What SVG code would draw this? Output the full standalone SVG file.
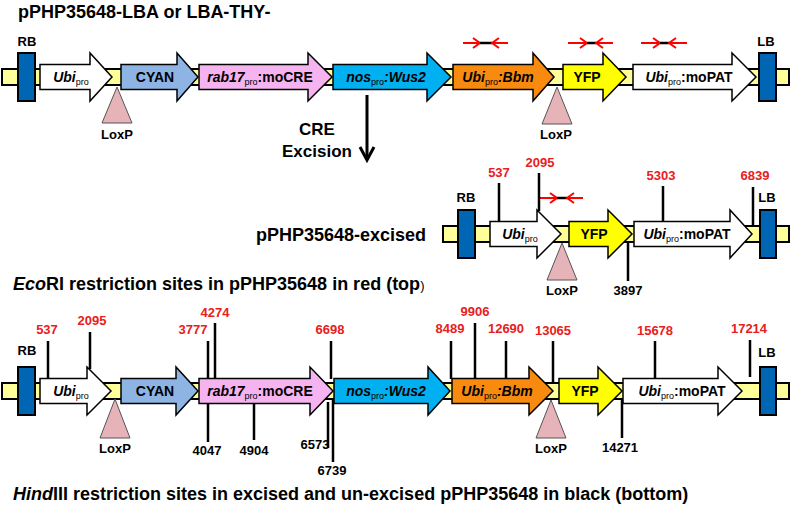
<svg xmlns="http://www.w3.org/2000/svg" width="792" height="507" viewBox="0 0 792 507">
<defs>
<style>
.t{font-family:"Liberation Sans",Arial,sans-serif;font-weight:bold;fill:#000}
.cap{font-size:18px}
.lbl{font-size:13px;text-anchor:middle}
.red{fill:#e82020}
.in{font-size:14px;text-anchor:middle}
.i{font-style:italic}
.sub{font-size:9px;font-weight:normal}
.bb{fill:#ffff99;stroke:#000;stroke-width:2}
.box{fill:#0066b3;stroke:#000;stroke-width:2}
.arr{stroke:#000;stroke-width:1.5;stroke-linejoin:miter}
.lox{fill:#e6b3b9;stroke:#555;stroke-width:1}
.site{stroke:#000;stroke-width:2.5;fill:none}
.pr{stroke:#ff0000;stroke-width:2;fill:none}
.prb{stroke:#000;stroke-width:2.5}
</style>
</defs>
<rect width="792" height="507" fill="#fff"/>

<text class="t cap" x="18" y="18">pPHP35648-LBA or LBA-THY-</text>

<!-- ===== Row 1: full construct (center y=77) ===== -->
<g id="row1">
<g id="r1-backbone"><rect class="bb" x="2" y="69" width="787" height="16"/></g>
<g id="r1-RB"><rect class="box" x="18" y="53" width="17" height="48"/><text class="t lbl" x="27" y="46">RB</text></g>
<g id="r1-LB"><rect class="box" x="759" y="53" width="17" height="48"/><text class="t lbl" x="766" y="46">LB</text></g>
<g id="r1-ubi"><polygon class="arr" fill="#fff" points="40,64.5 90,64.5 90,53 112,77 90,101 90,89.5 40,89.5"/><text class="t in" x="71" y="82"><tspan class="i">Ubi</tspan><tspan class="sub" dy="3">pro</tspan></text></g>
<g id="r1-cyan"><polygon class="arr" fill="#8db4e2" points="121,64.5 177,64.5 177,53 198,77 177,101 177,89.5 121,89.5"/><text class="t in" x="155" y="82">CYAN</text></g>
<g id="r1-cre"><polygon class="arr" fill="#f5b3ef" points="199,64.5 308,64.5 308,53 332,77 308,101 308,89.5 199,89.5"/><text class="t in" x="260" y="82"><tspan class="i">rab17</tspan><tspan class="sub" dy="3">pro</tspan><tspan dy="-3">:moCRE</tspan></text></g>
<g id="r1-wus2"><polygon class="arr" fill="#00b0f0" points="333,64.5 427,64.5 427,53 451,77 427,101 427,89.5 333,89.5"/><text class="t in" x="386" y="82"><tspan class="i">nos</tspan><tspan class="sub" dy="3">pro</tspan><tspan class="i" dy="-3">:Wus2</tspan></text></g>
<g id="r1-bbm"><polygon class="arr" fill="#f98a10" points="453,64.5 533,64.5 533,53 554,77 533,101 533,89.5 453,89.5"/><text class="t in" x="498" y="82"><tspan class="i">Ubi</tspan><tspan class="sub" dy="3">pro</tspan><tspan class="i" dy="-3">:Bbm</tspan></text></g>
<g id="r1-yfp"><polygon class="arr" fill="#ffff00" points="563,64.5 603,64.5 603,53 626,77 603,101 603,89.5 563,89.5"/><text class="t in" x="587" y="82">YFP</text></g>
<g id="r1-pat"><polygon class="arr" fill="#fff" points="633,64.5 732,64.5 732,53 756,77 732,101 732,89.5 633,89.5"/><text class="t in" x="689" y="82"><tspan class="i">Ubi</tspan><tspan class="sub" dy="3">pro</tspan><tspan dy="-3">:moPAT</tspan></text></g>
<g id="r1-loxp1"><polygon class="lox" points="117,87 102,123 132,123"/><text class="t lbl" x="117" y="139">LoxP</text></g>
<g id="r1-loxp2"><polygon class="lox" points="557,87 542,124 572,124"/><text class="t lbl" x="556" y="139">LoxP</text></g>
</g>

<!-- ===== Excised row (center y=234) ===== -->
<text class="t cap" x="256" y="241">pPHP35648-excised</text>
<g id="row2">
<g id="r2-backbone"><rect class="bb" x="443" y="226" width="346" height="16"/></g>
<g id="r2-RB"><rect class="box" x="458" y="210" width="17" height="48"/><text class="t lbl" x="466" y="202">RB</text></g>
<g id="r2-LB"><rect class="box" x="760" y="210" width="16" height="48"/><text class="t lbl" x="767" y="202">LB</text></g>
<g id="r2-ubi"><polygon class="arr" fill="#fff" points="490,221.5 537,221.5 537,210 561,234 537,258 537,246.5 490,246.5"/><text class="t in" x="520" y="239"><tspan class="i">Ubi</tspan><tspan class="sub" dy="3">pro</tspan></text></g>
<g id="r2-yfp"><polygon class="arr" fill="#ffff00" points="569,221.5 608,221.5 608,210 632,234 608,258 608,246.5 569,246.5"/><text class="t in" x="594" y="239">YFP</text></g>
<g id="r2-pat"><polygon class="arr" fill="#fff" points="634,221.5 730,221.5 730,210 752,234 730,258 730,246.5 634,246.5"/><text class="t in" x="687" y="239"><tspan class="i">Ubi</tspan><tspan class="sub" dy="3">pro</tspan><tspan dy="-3">:moPAT</tspan></text></g>
<g id="r2-loxp"><polygon class="lox" points="562,243 547,280 577,280"/><text class="t lbl" x="562" y="295">LoxP</text></g>
</g>

<text class="t cap" x="13" y="290"><tspan class="i">Eco</tspan>RI restriction sites in pPHP35648 in red (top<tspan font-size="13" font-weight="normal">)</tspan></text>

<!-- ===== Row 3: full construct with sites (center y=391) ===== -->
<g id="row3">
<g id="r3-backbone"><rect class="bb" x="2" y="383" width="787" height="16"/></g>
<g id="r3-RB"><rect class="box" x="18" y="367" width="17" height="48"/><text class="t lbl" x="27" y="355">RB</text></g>
<g id="r3-LB"><rect class="box" x="760" y="367" width="16" height="48"/><text class="t lbl" x="767" y="357">LB</text></g>
<g id="r3-ubi"><polygon class="arr" fill="#fff" points="40,378.5 87,378.5 87,367 111,391 87,415 87,403.5 40,403.5"/><text class="t in" x="71" y="396"><tspan class="i">Ubi</tspan><tspan class="sub" dy="3">pro</tspan></text></g>
<g id="r3-cyan"><polygon class="arr" fill="#8db4e2" points="121,378.5 176,378.5 176,367 198,391 176,415 176,403.5 121,403.5"/><text class="t in" x="155" y="396">CYAN</text></g>
<g id="r3-cre"><polygon class="arr" fill="#f5b3ef" points="199,378.5 310,378.5 310,367 333,391 310,415 310,403.5 199,403.5"/><text class="t in" x="260" y="396"><tspan class="i">rab17</tspan><tspan class="sub" dy="3">pro</tspan><tspan dy="-3">:moCRE</tspan></text></g>
<g id="r3-wus2"><polygon class="arr" fill="#00b0f0" points="334,378.5 428,378.5 428,367 450,391 428,415 428,403.5 334,403.5"/><text class="t in" x="386" y="396"><tspan class="i">nos</tspan><tspan class="sub" dy="3">pro</tspan><tspan class="i" dy="-3">:Wus2</tspan></text></g>
<g id="r3-bbm"><polygon class="arr" fill="#f98a10" points="452,378.5 529,378.5 529,367 553,391 529,415 529,403.5 452,403.5"/><text class="t in" x="497" y="396"><tspan class="i">Ubi</tspan><tspan class="sub" dy="3">pro</tspan><tspan class="i" dy="-3">:Bbm</tspan></text></g>
<g id="r3-yfp"><polygon class="arr" fill="#ffff00" points="559,378.5 598,378.5 598,367 622,391 598,415 598,403.5 559,403.5"/><text class="t in" x="585" y="396">YFP</text></g>
<g id="r3-pat"><polygon class="arr" fill="#fff" points="623,378.5 718,378.5 718,367 742,391 718,415 718,403.5 623,403.5"/><text class="t in" x="682" y="396"><tspan class="i">Ubi</tspan><tspan class="sub" dy="3">pro</tspan><tspan dy="-3">:moPAT</tspan></text></g>
<g id="r3-loxp1"><polygon class="lox" points="115,399 100,438 130,438"/><text class="t lbl" x="115" y="453">LoxP</text></g>
<g id="r3-loxp2"><polygon class="lox" points="551,400 536,438 566,438"/><text class="t lbl" x="551" y="453">LoxP</text></g>
</g>

<text class="t cap" x="13" y="500"><tspan class="i">Hind</tspan>III restriction sites in excised and un-excised pPHP35648 in black (bottom)</text>

<!-- ===== Connectors: excision arrow, primers, restriction site ticks ===== -->
<g id="connectors">
<g id="cre-excision">
<line x1="367" y1="95" x2="367" y2="160" stroke="#000" stroke-width="3"/>
<polyline points="360,147 367,160 374,147" fill="none" stroke="#000" stroke-width="3"/>
<text class="t" font-size="17" text-anchor="middle" x="317" y="135">CRE</text>
<text class="t" font-size="17" text-anchor="middle" x="317" y="157">Excision</text>
</g>
<g id="primers">
<line class="pr" x1="463" y1="43" x2="480" y2="43"/><polyline class="pr" points="473,38 480,43 473,48"/><line class="prb" x1="480" y1="43" x2="492" y2="43"/><line class="pr" x1="492" y1="43" x2="508" y2="43"/><polyline class="pr" points="499,38 492,43 499,48"/>
<line class="pr" x1="568" y1="43" x2="587" y2="43"/><polyline class="pr" points="580,38 587,43 580,48"/><line class="prb" x1="587" y1="43" x2="596" y2="43"/><line class="pr" x1="596" y1="43" x2="613" y2="43"/><polyline class="pr" points="603,38 596,43 603,48"/>
<line class="pr" x1="641" y1="43" x2="660" y2="43"/><polyline class="pr" points="653,38 660,43 653,48"/><line class="prb" x1="660" y1="43" x2="669" y2="43"/><line class="pr" x1="669" y1="43" x2="687" y2="43"/><polyline class="pr" points="676,38 669,43 676,48"/>
<line class="pr" x1="539" y1="198" x2="557" y2="198"/><polyline class="pr" points="550,193 557,198 550,203"/><line class="prb" x1="557" y1="198" x2="567" y2="198"/><line class="pr" x1="567" y1="198" x2="583" y2="198"/><polyline class="pr" points="574,193 567,198 574,203"/>
</g>
<g id="sites-excised">
<line class="site" x1="499" y1="183" x2="499" y2="221"/><text class="t lbl red" x="499" y="177">537</text>
<line class="site" x1="539" y1="173" x2="539" y2="211"/><text class="t lbl red" x="540" y="167">2095</text>
<line class="site" x1="663" y1="186" x2="663" y2="221"/><text class="t lbl red" x="661" y="180">5303</text>
<line class="site" x1="753" y1="187" x2="753" y2="226"/><text class="t lbl red" x="755" y="180">6839</text>
<line class="site" x1="628" y1="243" x2="628" y2="281"/><text class="t lbl" x="628" y="295">3897</text>
</g>
<g id="sites-full">
<line class="site" x1="48" y1="341" x2="48" y2="379"/><text class="t lbl red" x="47" y="334">537</text>
<line class="site" x1="90" y1="332" x2="90" y2="369"/><text class="t lbl red" x="92" y="325">2095</text>
<line class="site" x1="208" y1="341" x2="208" y2="379"/><text class="t lbl red" x="193" y="334">3777</text>
<line class="site" x1="215" y1="323" x2="215" y2="379"/><text class="t lbl red" x="215" y="317">4274</text>
<line class="site" x1="331" y1="341" x2="331" y2="379"/><text class="t lbl red" x="330" y="334">6698</text>
<line class="site" x1="451" y1="341" x2="451" y2="379"/><text class="t lbl red" x="450" y="333">8489</text>
<line class="site" x1="475" y1="323" x2="475" y2="379"/><text class="t lbl red" x="475" y="316">9906</text>
<line class="site" x1="506" y1="341" x2="506" y2="379"/><text class="t lbl red" x="506" y="333">12690</text>
<line class="site" x1="553" y1="341" x2="553" y2="382"/><text class="t lbl red" x="553" y="335">13065</text>
<line class="site" x1="655" y1="341" x2="655" y2="379"/><text class="t lbl red" x="655" y="335">15678</text>
<line class="site" x1="750" y1="340" x2="750" y2="377"/><text class="t lbl red" x="749" y="333">17214</text>
<line class="site" x1="208" y1="404" x2="208" y2="442"/><text class="t lbl" x="207" y="455">4047</text>
<line class="site" x1="254" y1="404" x2="254" y2="440"/><text class="t lbl" x="254" y="455">4904</text>
<line class="site" x1="328" y1="402" x2="328" y2="448"/><text class="t lbl" x="315" y="449">6573</text>
<line class="site" x1="333" y1="400" x2="333" y2="462"/><text class="t lbl" x="332" y="475">6739</text>
<line class="site" x1="622" y1="400" x2="622" y2="438"/><text class="t lbl" x="620" y="452">14271</text>
</g>
</g>
</svg>
